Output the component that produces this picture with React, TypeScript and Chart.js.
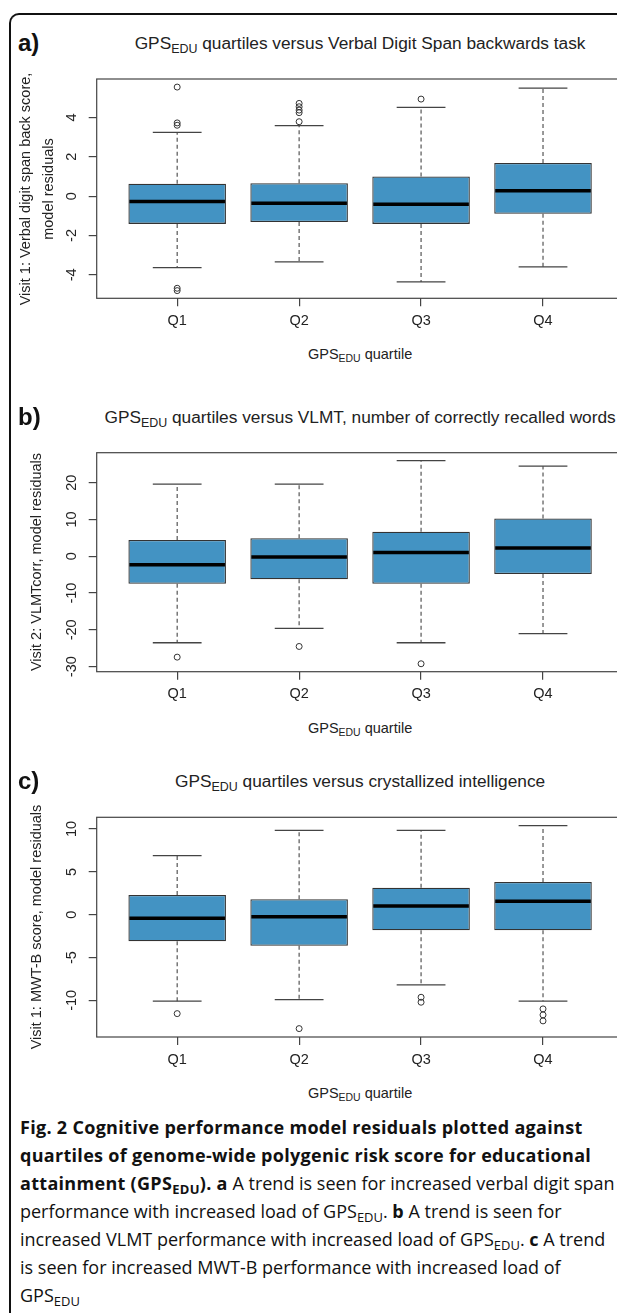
import React, { useEffect, useRef } from 'react';
import { Chart, registerables } from 'chart.js';

Chart.register(...registerables);

// ---------- data ----------
const QUARTILES = ['Q1', 'Q2', 'Q3', 'Q4'];
const POSITIONS = [1, 2, 3, 4];

// a) Verbal digit span backwards
const A_LOWER = [-3.63, -3.34, -4.36, -3.59];
const A_Q1 = [-1.41, -1.32, -1.41, -0.9];
const A_MEDIAN = [-0.27, -0.36, -0.41, 0.27];
const A_Q3 = [0.63, 0.66, 1.0, 1.68];
const A_UPPER = [3.24, 3.58, 4.51, 5.49];
const A_OUT_POS = [1, 1, 1, 1, 1, 2, 2, 2, 2, 2, 3];
const A_OUT_VAL = [5.54, 3.72, 3.6, -4.68, -4.8, 4.71, 4.54, 4.37, 4.24, 3.78, 4.93];
const A_YTICKS = [-4, -2, 0, 2, 4];
const A_YRANGE = [-5.19, 5.95];

// b) VLMT
const B_LOWER = [-23.5, -19.6, -23.5, -21.0];
const B_Q1 = [-7.45, -6.25, -7.45, -4.8];
const B_MEDIAN = [-2.28, -0.2, 1.0, 2.27];
const B_Q3 = [4.43, 4.9, 6.7, 10.3];
const B_UPPER = [19.6, 19.6, 26.0, 24.5];
const B_OUT_POS = [1, 2, 3];
const B_OUT_VAL = [-27.4, -24.5, -29.2];
const B_YTICKS = [-30, -20, -10, 0, 10, 20];
const B_YRANGE = [-31.36, 28.15];

// c) crystallized intelligence
const C_LOWER = [-10.1, -9.92, -8.2, -10.1];
const C_Q1 = [-3.1, -3.62, -1.82, -1.82];
const C_MEDIAN = [-0.43, -0.23, 1.02, 1.56];
const C_Q3 = [2.3, 1.8, 3.15, 3.82];
const C_UPPER = [6.89, 9.85, 9.85, 10.39];
const C_OUT_POS = [1, 2, 3, 3, 4, 4, 4];
const C_OUT_VAL = [-11.55, -13.3, -9.64, -10.22, -11.0, -11.7, -12.4];
const C_YTICKS = [-10, -5, 0, 5, 10];
const C_YRANGE = [-14.28, 11.37];

const X_RANGE = [0.34, 4.66];

// ---------- styling / layout (page coordinates) ----------
const FONT = '"Liberation Sans", Arial, sans-serif';
const BOX_FILL = '#4393C3';
const FRAME_LEFT = 96.7;
const FRAME_RIGHT = 623.5;
const CANVAS_LEFT = 0;
const CANVAS_W = 640;
const Y_AXIS_W = 12;
const X_AXIS_H = 40;
const TEXT_COLOR = '#222';
const AXIS_FONT_SIZE = 14.5;

type PanelData = {
  lower: number[];
  q1: number[];
  median: number[];
  q3: number[];
  upper: number[];
  outPos: number[];
  outVal: number[];
  yTicks: number[];
  yRange: number[];
};

const PANELS: PanelData[] = [
  { lower: A_LOWER, q1: A_Q1, median: A_MEDIAN, q3: A_Q3, upper: A_UPPER, outPos: A_OUT_POS, outVal: A_OUT_VAL, yTicks: A_YTICKS, yRange: A_YRANGE },
  { lower: B_LOWER, q1: B_Q1, median: B_MEDIAN, q3: B_Q3, upper: B_UPPER, outPos: B_OUT_POS, outVal: B_OUT_VAL, yTicks: B_YTICKS, yRange: B_YRANGE },
  { lower: C_LOWER, q1: C_Q1, median: C_MEDIAN, q3: C_Q3, upper: C_UPPER, outPos: C_OUT_POS, outVal: C_OUT_VAL, yTicks: C_YTICKS, yRange: C_YRANGE },
];

const FRAME_TOPS = [79, 452.7, 817.3];
const FRAME_BOTTOMS = [298.3, 671.7, 1037];

function BoxPanel({ d, frameTop, frameBottom }: { d: PanelData; frameTop: number; frameBottom: number }) {
  const ref = useRef<HTMLCanvasElement | null>(null);
  const canvasTop = Math.floor(frameTop) - 10;
  const canvasH = Math.ceil(frameBottom - canvasTop + X_AXIS_H + 4);

  useEffect(() => {
    if (!ref.current) return;
    const padTop = frameTop - canvasTop;
    const padBottom = canvasH - (frameBottom - canvasTop) - X_AXIS_H;
    const padLeft = FRAME_LEFT - CANVAS_LEFT - Y_AXIS_W;
    const padRight = CANVAS_LEFT + CANVAS_W - FRAME_RIGHT;

    const boxPlugin = {
      id: 'boxExtras',
      afterDatasetsDraw(chart: any) {
        const ctx = chart.ctx;
        const y = chart.scales.y;
        const meta = chart.getDatasetMeta(0);
        ctx.save();
        meta.data.forEach((bar: any, i: number) => {
          const cx = bar.x;
          const w = bar.width;
          const pHi = y.getPixelForValue(d.upper[i]);
          const pLo = y.getPixelForValue(d.lower[i]);
          const pQ3 = y.getPixelForValue(d.q3[i]);
          const pQ1 = y.getPixelForValue(d.q1[i]);
          const pMed = y.getPixelForValue(d.median[i]);
          ctx.strokeStyle = '#555';
          ctx.lineWidth = 1.2;
          ctx.setLineDash([4, 3]);
          ctx.beginPath();
          ctx.moveTo(cx, pQ3);
          ctx.lineTo(cx, pHi);
          ctx.moveTo(cx, pQ1);
          ctx.lineTo(cx, pLo);
          ctx.stroke();
          ctx.setLineDash([]);
          ctx.strokeStyle = '#444';
          ctx.lineWidth = 1.3;
          ctx.beginPath();
          ctx.moveTo(cx - w / 4, pHi);
          ctx.lineTo(cx + w / 4, pHi);
          ctx.moveTo(cx - w / 4, pLo);
          ctx.lineTo(cx + w / 4, pLo);
          ctx.stroke();
          ctx.strokeStyle = '#000';
          ctx.lineWidth = 3.5;
          ctx.beginPath();
          ctx.moveTo(cx - w / 2 + 1, pMed);
          ctx.lineTo(cx + w / 2 - 1, pMed);
          ctx.stroke();
        });
        ctx.restore();
      },
      afterDraw(chart: any) {
        const ctx = chart.ctx;
        const a = chart.chartArea;
        const y = chart.scales.y;
        ctx.save();
        ctx.strokeStyle = '#444';
        ctx.lineWidth = 1.2;
        ctx.strokeRect(a.left, a.top, a.right - a.left, a.bottom - a.top);
        ctx.fillStyle = TEXT_COLOR;
        ctx.font = `${AXIS_FONT_SIZE}px ${FONT}`;
        ctx.textAlign = 'center';
        ctx.textBaseline = 'middle';
        y.ticks.forEach((t: any) => {
          const py = y.getPixelForValue(t.value);
          ctx.save();
          ctx.translate(a.left - 25, py);
          ctx.rotate(-Math.PI / 2);
          ctx.fillText(String(t.value), 0, 0);
          ctx.restore();
        });
        ctx.restore();
      },
    };

    const chart = new Chart(ref.current, {
      type: 'bar',
      data: {
        datasets: [
          {
            type: 'bar',
            data: POSITIONS.map((p, i) => ({ x: p, y: [d.q1[i], d.q3[i]] })) as any,
            backgroundColor: BOX_FILL,
            borderColor: '#333',
            borderWidth: 1.3,
            borderSkipped: false,
            categoryPercentage: 1,
            barPercentage: 0.8,
          } as any,
          {
            type: 'scatter',
            data: d.outPos.map((p, i) => ({ x: p, y: d.outVal[i] })),
            pointRadius: 3,
            pointBorderWidth: 1,
            pointBackgroundColor: 'rgba(255,255,255,0)',
            pointBorderColor: '#333',
            pointStyle: 'circle',
          } as any,
        ],
      },
      options: {
        responsive: false,
        animation: false,
        events: [],
        layout: { padding: { top: padTop, bottom: padBottom, left: padLeft, right: padRight } },
        plugins: { legend: { display: false }, tooltip: { enabled: false }, title: { display: false } },
        scales: {
          x: {
            type: 'linear',
            offset: false,
            min: X_RANGE[0],
            max: X_RANGE[1],
            afterBuildTicks: (s: any) => {
              s.ticks = POSITIONS.map((v) => ({ value: v }));
            },
            afterFit: (s: any) => {
              s.height = X_AXIS_H;
            },
            ticks: {
              callback: (v: any) => QUARTILES[POSITIONS.indexOf(Number(v))] ?? '',
              font: { family: FONT, size: AXIS_FONT_SIZE },
              color: TEXT_COLOR,
              padding: 6,
              autoSkip: false,
              maxRotation: 0,
              minRotation: 0,
            },
            grid: { display: true, drawOnChartArea: false, drawTicks: true, tickLength: 8, color: '#444', lineWidth: 1.2, offset: false },
            border: { display: false },
          },
          y: {
            type: 'linear',
            min: d.yRange[0],
            max: d.yRange[1],
            afterBuildTicks: (s: any) => {
              s.ticks = d.yTicks.map((v) => ({ value: v }));
            },
            afterFit: (s: any) => {
              s.width = Y_AXIS_W;
            },
            ticks: { display: false },
            grid: { display: true, drawOnChartArea: false, drawTicks: true, tickLength: 8, color: '#444', lineWidth: 1.2 },
            border: { display: false },
          },
        },
      } as any,
      plugins: [boxPlugin],
    });
    return () => chart.destroy();
  }, []);

  return (
    <canvas
      ref={ref}
      width={CANVAS_W}
      height={canvasH}
      style={{ position: 'absolute', left: CANVAS_LEFT, top: canvasTop, width: CANVAS_W, height: canvasH, display: 'block' }}
    />
  );
}

const Sub = ({ children }: { children: React.ReactNode }) => (
  <span style={{ fontSize: '0.72em', verticalAlign: '-0.28em', lineHeight: 0 }}>{children}</span>
);

function Text({ x, y, children, style }: { x: number; y: number; children: React.ReactNode; style?: React.CSSProperties }) {
  return (
    <div
      style={{
        position: 'absolute',
        left: x,
        top: y,
        transform: 'translate(-50%, -50%)',
        whiteSpace: 'nowrap',
        lineHeight: 1,
        fontFamily: FONT,
        color: TEXT_COLOR,
        ...style,
      }}
    >
      {children}
    </div>
  );
}

const TITLES: React.ReactNode[] = [
  <>GPS<Sub>EDU</Sub> quartiles versus Verbal Digit Span backwards task</>,
  <>GPS<Sub>EDU</Sub> quartiles versus VLMT, number of correctly recalled words</>,
  <>GPS<Sub>EDU</Sub> quartiles versus crystallized intelligence</>,
];
const PANEL_LETTERS = ['a)', 'b)', 'c)'];
const Y_TITLES: string[][] = [
  ['Visit 1: Verbal digit span back score,', 'model residuals'],
  ['Visit 2: VLMTcorr, model residuals'],
  ['Visit 1: MWT-B score, model residuals'],
];

export default function App() {
  const plotCenter = (FRAME_LEFT + FRAME_RIGHT) / 2;
  const captionStyle: React.CSSProperties = {
    fontFamily: '"Open Sans", "Noto Sans", sans-serif',
    fontSize: 18,
    color: '#111',
    whiteSpace: 'nowrap',
    position: 'absolute',
    left: 20,
    lineHeight: '28px',
  };
  const boldCap: React.CSSProperties = { letterSpacing: '0.3px' };
  const capLines: React.ReactNode[] = [
    <b style={boldCap}>Fig. 2 Cognitive performance model residuals plotted against</b>,
    <b style={boldCap}>quartiles of genome-wide polygenic risk score for educational</b>,
    <>
      <b style={boldCap}>
        attainment (GPS<Sub>EDU</Sub>). a
      </b>{' '}
      A trend is seen for increased verbal digit span
    </>,
    <>
      performance with increased load of GPS<Sub>EDU</Sub>. <b>b</b> A trend is seen for
    </>,
    <>
      increased VLMT performance with increased load of GPS<Sub>EDU</Sub>. <b>c</b> A trend
    </>,
    <>is seen for increased MWT-B performance with increased load of</>,
    <>
      GPS<Sub>EDU</Sub>
    </>,
  ];
  return (
    <div style={{ position: 'fixed', left: 0, top: 0, width: 617, height: 1313, overflow: 'hidden', background: '#fff' }}>
      {/* outer frame: left and top rules with a rounded corner */}
      <div
        style={{
          position: 'absolute',
          left: 9,
          top: 13,
          width: 20,
          height: 20,
          borderLeft: '2px solid #111',
          borderTop: '2px solid #111',
          borderTopLeftRadius: 10,
        }}
      />
      <div style={{ position: 'absolute', left: 9, top: 13 + 19, width: 2, height: 1400, background: '#111' }} />
      <div style={{ position: 'absolute', left: 9 + 19, top: 13, width: 700, height: 2, background: '#111' }} />
      {PANELS.map((p, i) => (
        <BoxPanel key={i} d={p} frameTop={FRAME_TOPS[i]} frameBottom={FRAME_BOTTOMS[i]} />
      ))}
      {PANELS.map((_, i) => (
        <React.Fragment key={'t' + i}>
          <div
            style={{
              position: 'absolute',
              left: 18,
              top: FRAME_TOPS[i] - 36,
              transform: 'translateY(-50%)',
              fontFamily: FONT,
              fontWeight: 'bold',
              fontSize: 24,
              lineHeight: 1,
              color: '#111',
            }}
          >
            {PANEL_LETTERS[i]}
          </div>
          <Text x={plotCenter} y={FRAME_TOPS[i] - 35} style={{ fontSize: 17.3 }}>
            {TITLES[i]}
          </Text>
          <Text x={plotCenter} y={FRAME_BOTTOMS[i] + 56} style={{ fontSize: AXIS_FONT_SIZE }}>
            GPS<Sub>EDU</Sub> quartile
          </Text>
          <Text
            x={Y_TITLES[i].length > 1 ? 36.5 : 36}
            y={(FRAME_TOPS[i] + FRAME_BOTTOMS[i]) / 2}
            style={{ fontSize: AXIS_FONT_SIZE, transform: 'translate(-50%, -50%) rotate(-90deg)', textAlign: 'center', lineHeight: '23px' }}
          >
            {Y_TITLES[i].map((l, k) => (
              <div key={k}>{l}</div>
            ))}
          </Text>
        </React.Fragment>
      ))}
      {capLines.map((l, i) => (
        <div key={'c' + i} style={{ ...captionStyle, top: 1127 - 14 + i * 28 }}>
          {l}
        </div>
      ))}
    </div>
  );
}
